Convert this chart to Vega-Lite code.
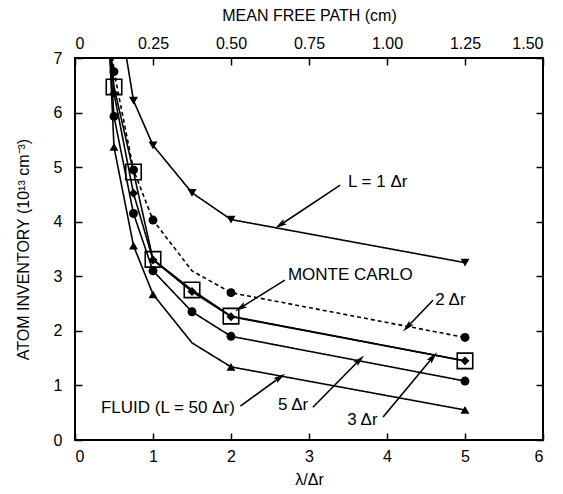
{
  "$schema": "https://vega.github.io/schema/vega-lite/v6.json",
  "width": 468,
  "height": 382,
  "autosize": {"type": "none"},
  "padding": {"left": 75, "top": 58, "right": 20, "bottom": 54},
  "config": {
    "font": "Liberation Sans",
    "view": {"stroke": "black", "strokeWidth": 2},
    "axis": {
      "domain": false,
      "grid": false,
      "tickColor": "black",
      "tickWidth": 1.5,
      "tickSize": -7,
      "labelFontSize": 16,
      "labelColor": "black",
      "titleFontSize": 16,
      "titleFontWeight": "normal",
      "titleColor": "black"
    }
  },
  "datasets": {
    "curves": [
      {"series": "L = 1 Δr", "x": 0.5, "y": 8.4},
      {"series": "L = 1 Δr", "x": 0.75, "y": 6.22},
      {"series": "L = 1 Δr", "x": 1.0, "y": 5.4},
      {"series": "L = 1 Δr", "x": 1.5, "y": 4.53},
      {"series": "L = 1 Δr", "x": 2.0, "y": 4.04},
      {"series": "L = 1 Δr", "x": 5.0, "y": 3.25},
      {"series": "2 Δr", "x": 0.4, "y": 8.3},
      {"series": "2 Δr", "x": 0.5, "y": 6.75},
      {"series": "2 Δr", "x": 0.75, "y": 4.95},
      {"series": "2 Δr", "x": 1.0, "y": 4.03},
      {"series": "2 Δr", "x": 1.5, "y": 3.1},
      {"series": "2 Δr", "x": 2.0, "y": 2.7},
      {"series": "2 Δr", "x": 5.0, "y": 1.88},
      {"series": "3 Δr", "x": 0.4, "y": 8.0},
      {"series": "3 Δr", "x": 0.5, "y": 6.35},
      {"series": "3 Δr", "x": 0.75, "y": 4.52},
      {"series": "3 Δr", "x": 1.0, "y": 3.3},
      {"series": "3 Δr", "x": 1.5, "y": 2.72},
      {"series": "3 Δr", "x": 2.0, "y": 2.26},
      {"series": "3 Δr", "x": 5.0, "y": 1.45},
      {"series": "MONTE CARLO", "x": 0.4, "y": 8.2},
      {"series": "MONTE CARLO", "x": 0.5, "y": 6.47},
      {"series": "MONTE CARLO", "x": 0.75, "y": 4.91},
      {"series": "MONTE CARLO", "x": 1.0, "y": 3.31},
      {"series": "MONTE CARLO", "x": 1.5, "y": 2.75},
      {"series": "MONTE CARLO", "x": 2.0, "y": 2.27},
      {"series": "MONTE CARLO", "x": 5.0, "y": 1.45},
      {"series": "5 Δr", "x": 0.4, "y": 8.07},
      {"series": "5 Δr", "x": 0.5, "y": 5.93},
      {"series": "5 Δr", "x": 0.75, "y": 4.15},
      {"series": "5 Δr", "x": 1.0, "y": 3.1},
      {"series": "5 Δr", "x": 1.5, "y": 2.35},
      {"series": "5 Δr", "x": 2.0, "y": 1.9},
      {"series": "5 Δr", "x": 5.0, "y": 1.08},
      {"series": "FLUID", "x": 0.4, "y": 8.5},
      {"series": "FLUID", "x": 0.5, "y": 5.37},
      {"series": "FLUID", "x": 0.75, "y": 3.56},
      {"series": "FLUID", "x": 1.0, "y": 2.67},
      {"series": "FLUID", "x": 1.5, "y": 1.78},
      {"series": "FLUID", "x": 2.0, "y": 1.34},
      {"series": "FLUID", "x": 5.0, "y": 0.55}
    ],
    "notesLeft": [
      {"label": "L = 1 Δr", "x": 3.5, "y": 4.73},
      {"label": "MONTE CARLO", "x": 2.73, "y": 3.02},
      {"label": "2 Δr", "x": 4.62, "y": 2.56}
    ],
    "notesRight": [
      {"label": "5 Δr", "x": 2.99, "y": 0.64},
      {"label": "3 Δr", "x": 3.88, "y": 0.37},
      {"label": "FLUID (L = 50 Δr)", "x": 2.05, "y": 0.58}
    ],
    "arrows": [
      {"x": 3.4, "y": 4.67, "x2": 2.63, "y2": 3.94},
      {"x": 2.69, "y": 2.93, "x2": 2.12, "y2": 2.42},
      {"x": 4.59, "y": 2.56, "x2": 4.26, "y2": 2.07},
      {"x": 3.05, "y": 0.6, "x2": 3.65, "y2": 1.47},
      {"x": 3.95, "y": 0.42, "x2": 4.59, "y2": 1.52},
      {"x": 2.12, "y": 0.62, "x2": 2.63, "y2": 1.15}
    ]
  },
  "resolve": {"axis": {"x": "independent", "y": "independent"}},
  "layer": [
    {
      "data": {"name": "curves"},
      "mark": {"type": "line", "clip": true, "color": "black", "strokeWidth": 1.6},
      "encoding": {
        "x": {"field": "x", "type": "quantitative", "scale": {"domain": [0, 6], "nice": false},
              "axis": {"orient": "bottom", "title": "λ/Δr", "values": [0, 1, 2, 3, 4, 5, 6], "labelPadding": 15, "titlePadding": 7}},
        "y": {"field": "y", "type": "quantitative", "scale": {"domain": [0, 7], "nice": false},
              "axis": {"orient": "left", "title": "ATOM INVENTORY (10¹³ cm⁻³)", "values": [0, 1, 2, 3, 4, 5, 6, 7], "labelPadding": 20, "titlePadding": 22}},
        "detail": {"field": "series"},
        "order": {"field": "x", "type": "quantitative"},
        "strokeDash": {"field": "series", "type": "nominal", "legend": null,
          "scale": {"domain": ["L = 1 Δr", "2 Δr", "3 Δr", "MONTE CARLO", "5 Δr", "FLUID"],
                    "range": [[1, 0], [4, 3], [1, 0], [1, 0], [1, 0], [1, 0]]}}
      }
    },
    {
      "data": {"name": "curves"},
      "transform": [{"filter": "datum.series != 'MONTE CARLO' && !(datum.x == 1.5 && (datum.series == '2 Δr' || datum.series == 'FLUID'))"}],
      "mark": {"type": "point", "clip": true, "filled": true, "color": "black", "opacity": 1, "size": 80},
      "encoding": {
        "x": {"field": "x", "type": "quantitative", "axis": null},
        "y": {"field": "y", "type": "quantitative", "axis": null},
        "shape": {"field": "series", "type": "nominal", "legend": null,
          "scale": {"domain": ["L = 1 Δr", "2 Δr", "3 Δr", "5 Δr", "FLUID"],
                    "range": ["triangle-down", "circle", "diamond", "circle", "triangle-up"]}}
      }
    },
    {
      "data": {"name": "curves"},
      "transform": [{"filter": "datum.series == 'MONTE CARLO' && datum.y <= 7"}],
      "mark": {"type": "point", "shape": "square", "clip": true, "filled": false, "color": "black", "opacity": 1, "strokeWidth": 1.6, "size": 240},
      "encoding": {
        "x": {"field": "x", "type": "quantitative",
              "axis": {"orient": "top", "title": "MEAN FREE PATH (cm)", "values": [0, 1, 2, 3, 4, 5, 6], "labelPadding": 14, "titlePadding": 12,
                       "labelExpr": "datum.value == 0 ? '0' : format(datum.value * 0.25, '.2f')"}},
        "y": {"field": "y", "type": "quantitative",
              "axis": {"orient": "right", "title": null, "labels": false, "values": [0, 1, 2, 3, 4, 5, 6, 7]}}
      }
    },
    {
      "data": {"name": "arrows"},
      "mark": {"type": "rule", "color": "black", "strokeWidth": 1.6},
      "encoding": {
        "x": {"field": "x", "type": "quantitative", "axis": null},
        "y": {"field": "y", "type": "quantitative", "axis": null},
        "x2": {"field": "x2"},
        "y2": {"field": "y2"}
      }
    },
    {
      "data": {"name": "arrows"},
      "transform": [{"calculate": "atan2((datum.x2 - datum.x) * 78, (datum.y2 - datum.y) * 54.6) * 180 / PI", "as": "angle"}],
      "mark": {"type": "point", "shape": "M0,-1L0.5,1L0,0.6L-0.5,1Z", "filled": true, "color": "black", "opacity": 1, "size": 150},
      "encoding": {
        "x": {"field": "x2", "type": "quantitative", "axis": null},
        "y": {"field": "y2", "type": "quantitative", "axis": null},
        "angle": {"field": "angle", "type": "quantitative", "scale": null}
      }
    },
    {
      "data": {"name": "notesLeft"},
      "mark": {"type": "text", "fontSize": 17, "color": "black", "baseline": "middle", "align": "left"},
      "encoding": {
        "x": {"field": "x", "type": "quantitative", "axis": null},
        "y": {"field": "y", "type": "quantitative", "axis": null},
        "text": {"field": "label"}
      }
    },
    {
      "data": {"name": "notesRight"},
      "mark": {"type": "text", "fontSize": 17, "color": "black", "baseline": "middle", "align": "right"},
      "encoding": {
        "x": {"field": "x", "type": "quantitative", "axis": null},
        "y": {"field": "y", "type": "quantitative", "axis": null},
        "text": {"field": "label"}
      }
    }
  ]
}
